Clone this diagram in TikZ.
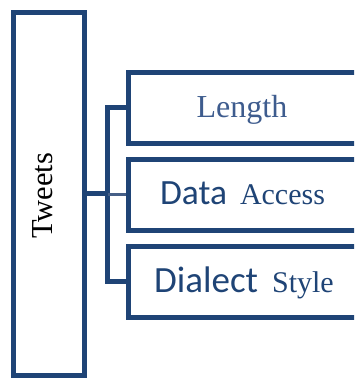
\documentclass[tikz,border=0pt]{standalone}
\usepackage{fontspec}
\setmainfont{Liberation Serif}
\newfontfamily\calib{Carlito}
\definecolor{navy}{RGB}{31,68,118}
\definecolor{softnavy}{RGB}{62,92,142}
\definecolor{linkgray}{RGB}{70,95,135}
\begin{document}
\begin{tikzpicture}[x=1pt,y=-1pt,
  frame/.style={draw=navy,line width=5pt,inner sep=0pt,rectangle},
  conn/.style={draw=navy,line width=5pt},
  thinconn/.style={draw=linkgray,line width=3pt},
  label/.style={inner sep=0pt,anchor=base}]
\useasboundingbox (0,0) rectangle (354,378);
\clip (0,0) rectangle (354,378);
\fill[white] (0,0) rectangle (354,378);
% root box
\node[frame,minimum width=71pt,minimum height=362.5pt] (tw) at (49,193.75) {};
\node[inner sep=0pt,rotate=90,text=black,font=\fontsize{30.5}{32}\selectfont] (twt) at (43,196) {Tweets};
% category boxes
\node[frame,minimum width=229.5pt,minimum height=70.5pt] (b1) at (243.25,107.75) {};
\node[frame,minimum width=229.5pt,minimum height=70.5pt] (b2) at (243.25,194.75) {};
\node[frame,minimum width=229.5pt,minimum height=71pt] (b3) at (243.25,281.5) {};
\node[label,text=softnavy,font=\fontsize{32}{34}\selectfont] (l1) at (242,117) {Length};
\node[label,text=navy] (l2) at (242.5,204) {{\calib\fontsize{35.5}{38}\selectfont Data}\hspace{13pt}{\fontsize{30}{32}\selectfont Access}};
\node[label,text=navy] (l3) at (244,292) {{\calib\fontsize{37}{40}\selectfont Dialect}\hspace{14pt}{\fontsize{30}{32}\selectfont Style}};
% bracket connectors
\coordinate (bx) at (107.5,0);
\draw[conn,line join=miter] (b1.west) -- (b1.west -| bx) -- (b3.west -| bx) -- (b3.west);
\draw[conn] (tw.east) -- (tw.east -| bx);
\draw[thinconn] (b2.west -| bx) -- (b2.west);
\end{tikzpicture}
\end{document}
